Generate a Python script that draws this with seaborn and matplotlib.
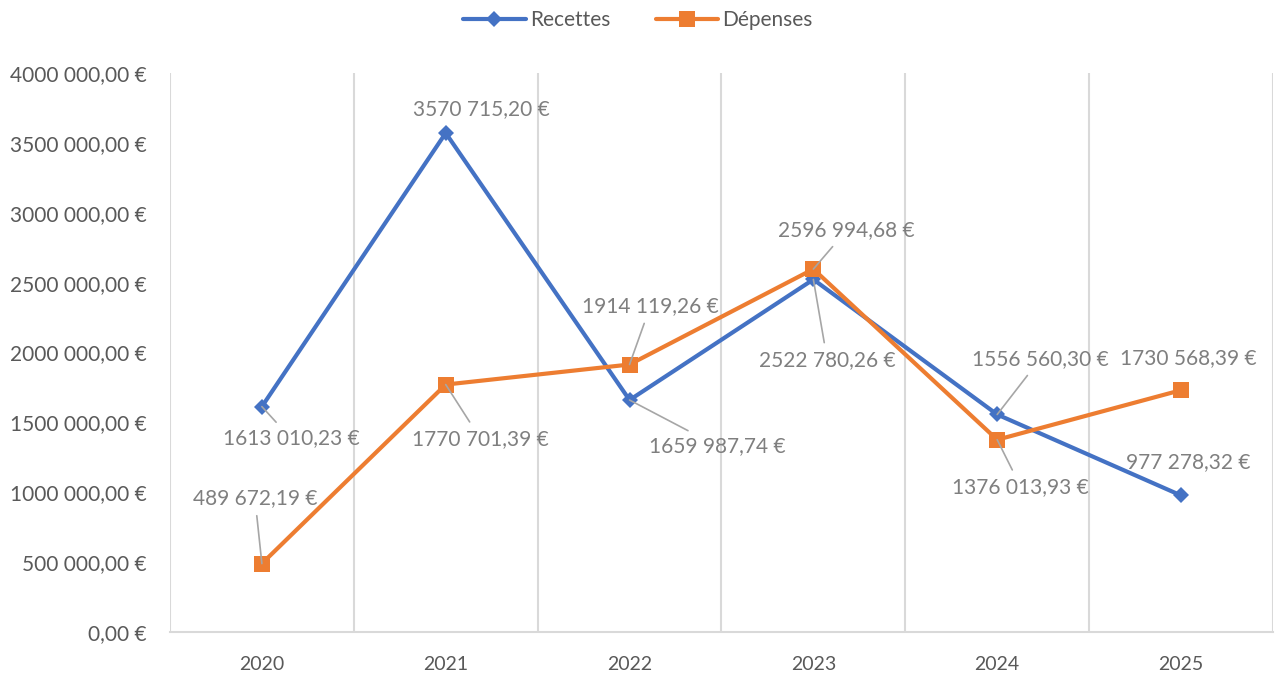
import pandas as pd
import matplotlib.pyplot as plt
import seaborn as sns

YEARS = [2020, 2021, 2022, 2023, 2024, 2025]
RECETTES = [1613010.23, 3570715.20, 1659987.74, 2522780.26, 1556560.30, 977278.32]
DEPENSES = [489672.19, 1770701.39, 1914119.26, 2596994.68, 1376013.93, 1730568.39]
Y_TICKS = [0, 500000, 1000000, 1500000, 2000000, 2500000, 3000000, 3500000, 4000000]

# label offsets in points (dx, dy) and whether a leader line is drawn
REC_OFFSETS = [(21, -23), (26, 17), (63, -33), (10, -58), (31, 40), (5, 24)]
REC_LEADER = [True, False, True, True, True, False]
DEP_OFFSETS = [(-5, 47), (25, -39), (15, 42), (24, 28), (17, -34), (5, 23)]
DEP_LEADER = [True, True, True, True, True, False]

BLUE = "#4472C4"
ORANGE = "#ED7D31"
GRAY = "#7F7F7F"


def euro(v):
    """Excel french style: '4000 000,00'."""
    s = f"{v:.2f}"
    ent, dec = s.split(".")
    if len(ent) > 3:
        ent = ent[:-3] + " " + ent[-3:]
    return f"{ent},{dec}"


def main():
    sns.set_style("white")
    plt.rcParams["font.family"] = ["Lato", "DejaVu Sans"]

    df = pd.DataFrame({
        "annee": YEARS * 2,
        "montant": RECETTES + DEPENSES,
        "serie": ["Recettes"] * len(YEARS) + ["Dépenses"] * len(YEARS),
    })

    fig = plt.figure(figsize=(12.76, 6.73), dpi=100)
    ax = fig.add_axes([0.1332, 0.0609, 0.8644, 0.8306])

    sns.lineplot(data=df, x="annee", y="montant", hue="serie", style="serie",
                 palette={"Recettes": BLUE, "Dépenses": ORANGE},
                 markers={"Recettes": "D", "Dépenses": "s"},
                 dashes=False, linewidth=3, ax=ax, legend=False)
    # bigger markers, Excel style
    for line in ax.lines:
        if line.get_marker() == "D":
            line.set_markersize(8)
        else:
            line.set_markersize(11)
        line.set_markeredgewidth(0)

    ax.set_xlim(YEARS[0] - 0.5, YEARS[-1] + 0.5)
    ax.set_ylim(0, 4000000)
    ax.set_xticks(YEARS)
    ax.set_xticklabels([str(y) for y in YEARS], fontsize=14, color="#595959")
    ax.set_xticks([y + 0.5 for y in YEARS], minor=True)
    ax.set_yticks(Y_TICKS)
    ax.set_yticklabels([euro(v) + " €" for v in Y_TICKS], fontsize=15, color="#595959")
    ax.tick_params(axis="both", length=0, which="both")
    ax.tick_params(axis="x", pad=17)
    ax.tick_params(axis="y", pad=17)
    ax.grid(False)
    ax.grid(True, axis="x", which="minor", color="#D9D9D9", linewidth=1.5)
    ax.set_xlabel("")
    ax.set_ylabel("")
    for side in ["top", "right", "left"]:
        ax.spines[side].set_visible(False)
    ax.spines["bottom"].set_color("#D9D9D9")
    ax.spines["bottom"].set_linewidth(1.5)
    ax.axvline(YEARS[0] - 0.5, color="#D9D9D9", linewidth=1.5, zorder=0)

    # data labels
    for vals, offs, lead in [(RECETTES, REC_OFFSETS, REC_LEADER),
                             (DEPENSES, DEP_OFFSETS, DEP_LEADER)]:
        for yr, v, off, ld in zip(YEARS, vals, offs, lead):
            props = None
            if ld:
                props = dict(arrowstyle="-", color="#A6A6A6", lw=1.2,
                             shrinkA=3, shrinkB=0)
            ax.annotate(euro(v) + " €", xy=(yr, v), xytext=off,
                        textcoords="offset points", ha="center", va="center",
                        fontsize=15, color=GRAY, arrowprops=props, zorder=5)

    handles = [
        plt.Line2D([], [], color=BLUE, lw=3, marker="D", markersize=8, markeredgewidth=0),
        plt.Line2D([], [], color=ORANGE, lw=3, marker="s", markersize=11, markeredgewidth=0),
    ]
    fig.legend(handles, ["Recettes", "Dépenses"], loc="center", ncol=2,
               bbox_to_anchor=(0.5, 0.97), frameon=False, fontsize=15,
               labelcolor="#595959", handlelength=3.0, handletextpad=0.2,
               columnspacing=2.2)

    fig.savefig("out.png", dpi=100)


if __name__ == "__main__":
    main()
